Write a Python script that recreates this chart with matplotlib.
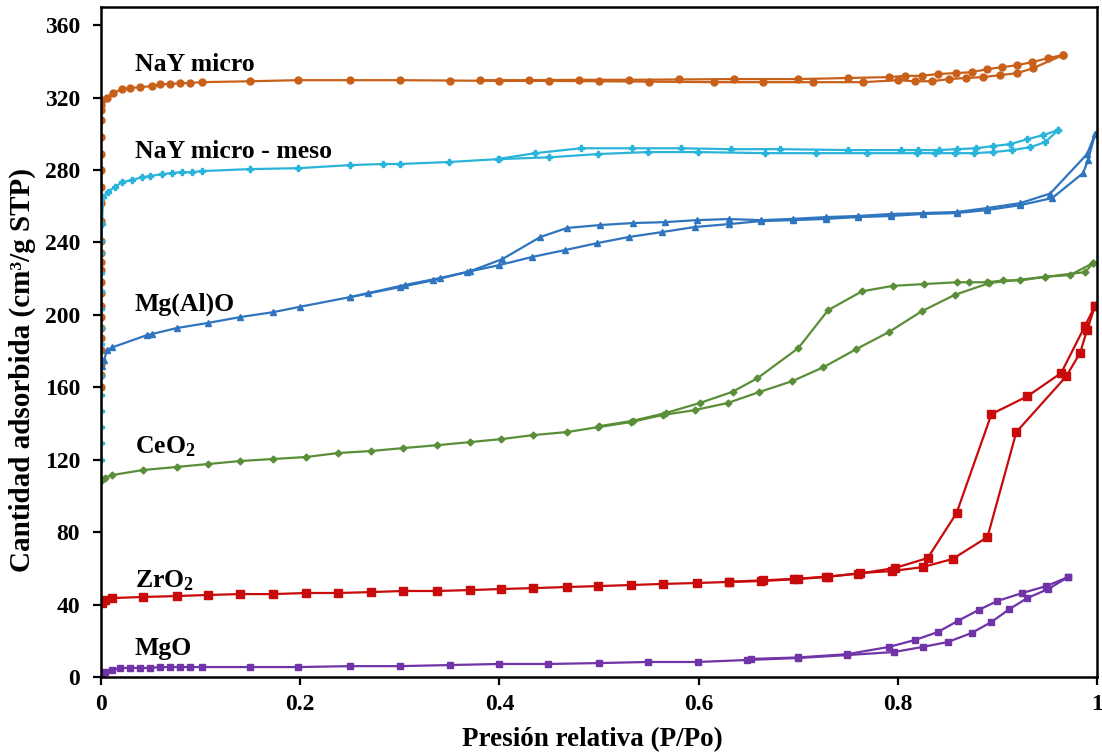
import matplotlib
matplotlib.use("Agg")
import matplotlib.pyplot as plt

plt.rcParams["font.family"] = ["Liberation Serif", "DejaVu Serif"]
plt.rcParams["font.weight"] = "bold"
plt.rcParams["mathtext.fontset"] = "custom"
plt.rcParams["mathtext.rm"] = "Liberation Serif:bold"
plt.rcParams["mathtext.it"] = "Liberation Serif:bold"
plt.rcParams["mathtext.bf"] = "Liberation Serif:bold"

# --- NaY micro ---
nay_ads_x = [0.0, 0.0, 0.0, 0.0, 0.0, 0.0, 0.0, 0.0, 0.0, 0.0, 0.0, 0.0, 0.0, 0.0, 0.0, 0.0,
             0.0, 0.0, 0.0, 0.0, 0.0, 0.0, 0.0, 0.001, 0.006, 0.012, 0.021, 0.029, 0.039, 0.051,
             0.059, 0.069, 0.079, 0.089, 0.101, 0.15, 0.198, 0.25, 0.30, 0.35, 0.40, 0.45, 0.50,
             0.55, 0.615, 0.665, 0.715, 0.765, 0.80, 0.817, 0.834, 0.851, 0.868, 0.886, 0.903,
             0.92, 0.936, 0.966]
nay_ads_y = [160, 167, 173, 180.5, 187, 193, 199, 205, 212, 218, 225, 229, 234, 241, 252, 262,
             270.6, 280, 289, 298, 307.6, 313, 316, 318.6, 320, 322.5, 324.7, 325.2, 325.8, 326.3,
             327.4, 327.4, 328, 328, 328.5, 329, 329.6, 329.6, 329.6, 329.4, 329.2, 329.2, 329,
             328.8, 328.5, 328.5, 328.5, 328.5, 329.6, 329, 329, 330.2, 330.8, 331.3, 332.4,
             333.5, 336.3, 343.5]
nay_des_x = [0.966, 0.951, 0.935, 0.92, 0.905, 0.89, 0.874, 0.858, 0.84, 0.824, 0.807, 0.791,
             0.75, 0.70, 0.635, 0.58, 0.53, 0.48, 0.43, 0.38]
nay_des_y = [343.5, 341.8, 339.6, 337.9, 336.8, 335.7, 334, 333.5, 333, 332, 332, 331.3,
             330.8, 330.2, 330.2, 330, 329.8, 329.8, 329.6, 329.6]

# --- NaY micro - meso ---
mm_ads_x = [0.0, 0.0, 0.0, 0.0, 0.0, 0.0, 0.0, 0.0, 0.0, 0.0, 0.0, 0.0, 0.0, 0.0, 0.001,
            0.002, 0.007, 0.014, 0.021, 0.031, 0.041, 0.049, 0.061, 0.071, 0.081, 0.091, 0.101,
            0.15, 0.198, 0.25, 0.283, 0.30, 0.349, 0.399, 0.45, 0.499, 0.549, 0.599, 0.667,
            0.718, 0.769, 0.819, 0.837, 0.857, 0.876, 0.896, 0.915, 0.933, 0.948, 0.961]
mm_ads_y = [120, 129, 138, 147, 156, 166, 175, 184, 193, 203, 213, 223, 234, 241, 250,
            265, 268, 270.6, 273.3, 274.4, 276, 276.6, 277.7, 278.3, 278.8, 278.8, 279.4,
            280.5, 281, 282.7, 283.3, 283.3, 284.4, 286, 287, 288.8, 289.9, 289.9, 289.3,
            289.3, 289.3, 289.3, 289.3, 289.3, 289.3, 289.9, 291, 292.6, 295.4, 302]
mm_des_x = [0.961, 0.946, 0.93, 0.913, 0.896, 0.878, 0.859, 0.841, 0.82, 0.803, 0.75, 0.682,
            0.632, 0.582, 0.533, 0.482, 0.436, 0.40]
mm_des_y = [302, 299.3, 297, 294.3, 293.2, 292, 291.5, 291, 291, 291, 291, 291.5,
            291.5, 292, 292, 292, 289.3, 286.2]

# --- Mg(Al)O ---
mgal_ads_x = [0.0, 0.001, 0.003, 0.006, 0.011, 0.046, 0.051, 0.076, 0.107, 0.14, 0.173, 0.20,
              0.25, 0.30, 0.333, 0.367, 0.40, 0.433, 0.466, 0.498, 0.53, 0.563, 0.596, 0.63,
              0.663, 0.695, 0.728, 0.76, 0.793, 0.825, 0.859, 0.89, 0.923, 0.955, 0.986, 0.991,
              0.998]
mgal_ads_y = [175, 172, 175, 180.5, 182, 188.8, 189.4, 192.7, 195.5, 198.8, 201.5, 204.5,
              209.8, 215.3, 219, 223.6, 227.5, 232, 235.8, 239.6, 243, 245.7, 248.5, 250.1,
              251.8, 252.3, 253, 254, 254.6, 255.7, 256.2, 257.9, 260.6, 264.5, 278.3, 285.5,
              299.8]
mgal_des_x = [0.998, 0.99, 0.953, 0.923, 0.89, 0.859, 0.825, 0.793, 0.76, 0.728, 0.695, 0.663,
              0.63, 0.598, 0.566, 0.534, 0.501, 0.468, 0.441, 0.403, 0.37, 0.34, 0.305, 0.268,
              0.25]
mgal_des_y = [299.8, 288.8, 267, 261.7, 259, 256.8, 256.2, 255.7, 254.6, 254, 253, 252.3,
              252.9, 252.3, 251.2, 250.7, 249.6, 248, 243, 230.8, 224, 220.3, 216.5, 212, 209.8]

# --- CeO2 ---
ce_ads_x = [0.001, 0.004, 0.011, 0.042, 0.076, 0.107, 0.14, 0.173, 0.206, 0.238, 0.271, 0.303,
            0.337, 0.37, 0.402, 0.434, 0.468, 0.499, 0.532, 0.564, 0.596, 0.629, 0.661, 0.694,
            0.725, 0.758, 0.791, 0.824, 0.857, 0.892, 0.948, 0.988, 0.996]
ce_ads_y = [108.8, 110, 111.5, 114.3, 116, 117.6, 119.3, 120.4, 121.5, 123.7, 124.8, 126.4,
            128, 129.7, 131.4, 133.6, 135.3, 138, 140.8, 144.7, 147.4, 151.3, 157.4, 163.4,
            171, 181, 190.5, 202, 211, 217.6, 221, 223.6, 228.6]
ce_des_x = [0.996, 0.973, 0.948, 0.923, 0.906, 0.89, 0.871, 0.859, 0.826, 0.795, 0.764, 0.73,
            0.70, 0.659, 0.634, 0.601, 0.567, 0.534, 0.50]
ce_des_y = [228.6, 222, 221, 219, 219, 218, 218, 218, 217, 216, 213, 202.6,
            181.6, 165, 157.5, 151.3, 145.8, 141.5, 138.5]

# --- ZrO2 ---
zr_ads_x = [0.001, 0.004, 0.011, 0.042, 0.076, 0.107, 0.14, 0.173, 0.206, 0.238, 0.271, 0.303,
            0.337, 0.37, 0.402, 0.434, 0.468, 0.499, 0.532, 0.564, 0.598, 0.63, 0.663, 0.696,
            0.728, 0.762, 0.794, 0.825, 0.855, 0.89, 0.919, 0.969, 0.983, 0.99, 0.998]
zr_ads_y = [40.9, 42.5, 43.6, 44.2, 44.7, 45.3, 45.8, 45.8, 46.4, 46.4, 46.9, 47.5,
            47.5, 48, 48.6, 49.1, 49.7, 50.2, 50.8, 51.4, 51.9, 52.5, 53, 54,
            55.2, 57.4, 58.5, 60.7, 65.2, 77.3, 135.3, 166, 179, 191.6, 205]
zr_des_x = [0.998, 0.988, 0.964, 0.93, 0.894, 0.859, 0.83, 0.797, 0.76, 0.73, 0.70, 0.665,
            0.63]
zr_des_y = [205, 194, 167.9, 155, 145.2, 90.6, 65.7, 60.2, 57, 55.5, 54.3, 53.4, 52.6]

# --- MgO ---
mgo_ads_x = [0.001, 0.004, 0.011, 0.019, 0.029, 0.039, 0.049, 0.059, 0.069, 0.079, 0.089,
             0.101, 0.15, 0.198, 0.25, 0.30, 0.35, 0.40, 0.449, 0.50, 0.549, 0.599, 0.649,
             0.70, 0.749, 0.796, 0.825, 0.85, 0.874, 0.894, 0.912, 0.93, 0.951, 0.971]
mgo_ads_y = [2.2, 2.8, 3.9, 5, 5, 5, 5, 5.5, 5.5, 5.5, 5.5, 5.5, 5.5, 5.5, 6, 6, 6.6, 7.2,
             7.2, 7.7, 8.3, 8.3, 9.4, 10.5, 12.1, 13.8, 16.6, 19.3, 24.3, 30.4, 37.5, 43.6,
             48.6, 55.2]
mgo_des_x = [0.971, 0.949, 0.925, 0.90, 0.881, 0.86, 0.84, 0.817, 0.791, 0.749, 0.70, 0.653]
mgo_des_y = [55.2, 50.2, 46.4, 42, 37, 30.9, 24.8, 20.4, 16.6, 12.6, 10.8, 10]

series = [
    ("NaY micro", nay_ads_x, nay_ads_y, nay_des_x, nay_des_y, "#C9601A", "o", 5, 338.5),
    ("NaY micro - meso", mm_ads_x, mm_ads_y, mm_des_x, mm_des_y, "#2AB4DA", "P", 4.5, 290),
    ("Mg(Al)O", mgal_ads_x, mgal_ads_y, mgal_des_x, mgal_des_y, "#2F74BE", "^", 4.5, 206),
    ("CeO$_\\mathregular{2}$", ce_ads_x, ce_ads_y, ce_des_x, ce_des_y, "#5A8E38", "D", 3.5, 127),
    ("ZrO$_\\mathregular{2}$", zr_ads_x, zr_ads_y, zr_des_x, zr_des_y, "#C80A0A", "s", 5.5, 53),
    ("MgO", mgo_ads_x, mgo_ads_y, mgo_des_x, mgo_des_y, "#7033A8", "s", 5, 16),
]

fig = plt.figure(figsize=(11.02, 7.55), dpi=100)
ax = fig.add_axes([0.0917, 0.1033, 0.9038, 0.8874])

for name, ax_x, ax_y, de_x, de_y, color, marker, ms, label_y in series:
    ax.plot(ax_x, ax_y, color=color, lw=1.6, marker=marker, ms=ms, mec=color, mfc=color)
    ax.plot(de_x, de_y, color=color, lw=1.6, marker=marker, ms=ms, mec=color, mfc=color)
    ax.text(0.034, label_y, name, fontsize=18.5, fontweight="bold", va="center", ha="left")

ax.set_xlim(0, 1)
ax.set_ylim(0, 370)
ax.set_xticks([0, 0.2, 0.4, 0.6, 0.8, 1.0])
ax.set_xticklabels(["0", "0.2", "0.4", "0.6", "0.8", "1"])
ax.set_yticks(range(0, 361, 40))
ax.tick_params(direction="out", length=6, width=1.6, labelsize=17)
ax.tick_params(axis="y", pad=9)
ax.tick_params(axis="x", pad=6)
for label in ax.get_xticklabels() + ax.get_yticklabels():
    label.set_fontweight("bold")
for spine in ax.spines.values():
    spine.set_linewidth(1.8)

fig.text(592 / 1102, 0.02, "Presión relativa (P/Po)", fontsize=19.5, fontweight="bold",
         ha="center", va="center")
fig.text(22 / 1102, 0.51, "Cantidad adsorbida (cm³/g STP)", fontsize=21, fontweight="bold",
         ha="center", va="center", rotation=90)

fig.savefig("out.png", dpi=100)
